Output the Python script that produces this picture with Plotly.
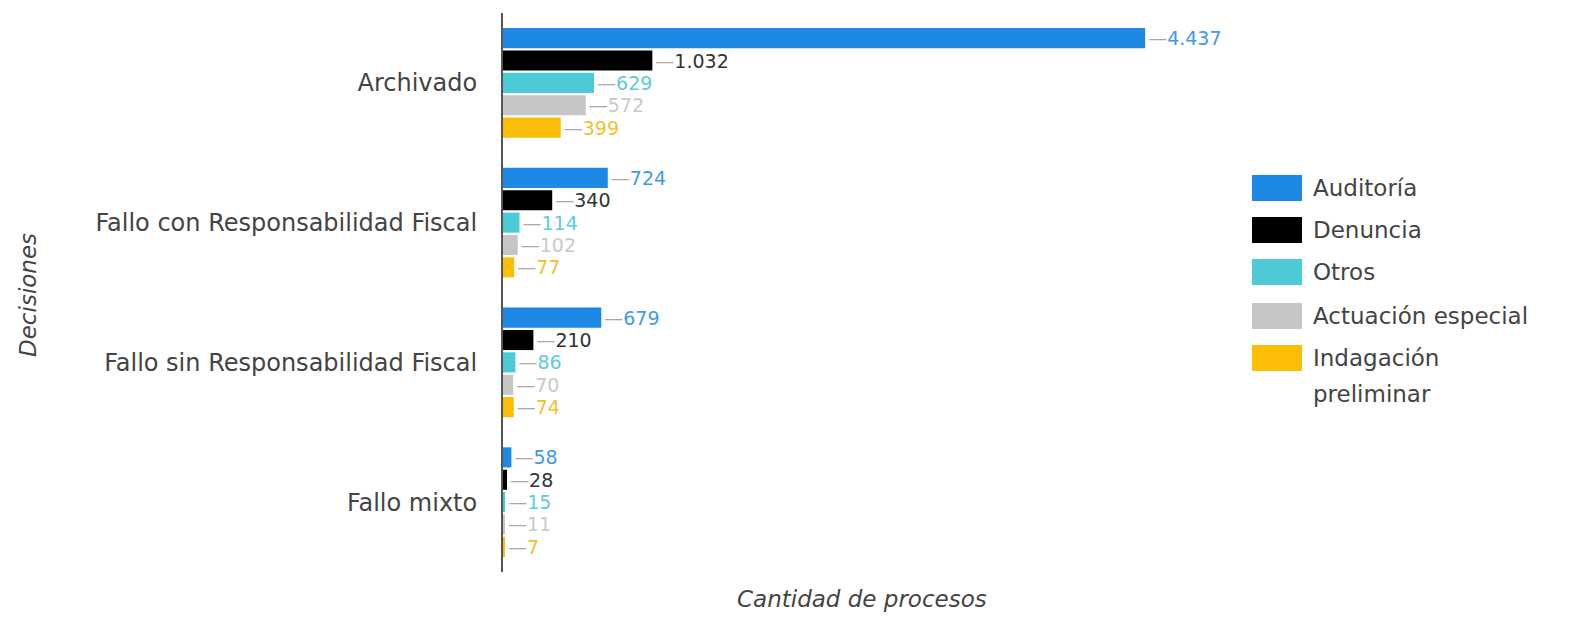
import plotly.graph_objects as go

# Decisiones y cantidad de procesos por origen
decisiones = ["Archivado", "Fallo con Responsabilidad Fiscal",
              "Fallo sin Responsabilidad Fiscal", "Fallo mixto"]
auditoria = [4437, 724, 679, 58]
denuncia = [1032, 340, 210, 28]
otros = [629, 114, 86, 15]
actuacion_especial = [572, 102, 70, 11]
indagacion_preliminar = [399, 77, 74, 7]

series = [
    ("Auditoría", auditoria, "#1e88e5", "#3f9ae8"),
    ("Denuncia", denuncia, "#000000", "#333333"),
    ("Otros", otros, "#4ccbd6", "#5ccdd9"),
    ("Actuación especial", actuacion_especial, "#c6c6c6", "#c9c9c9"),
    ("Indagación preliminar", indagacion_preliminar, "#fbbd08", "#f2c12e"),
]

FONT = "DejaVu Sans"
LEADER = "<span style='color:#a8a8a8'>—</span>"

fig = go.Figure()
for name, vals, color, txtcolor in series:
    fig.add_trace(go.Bar(
        y=decisiones, x=vals, name=name, orientation="h",
        marker=dict(color=color, line=dict(width=0)),
        texttemplate=LEADER + "%{x:,}",
        textposition="outside", cliponaxis=False, constraintext="none",
        textfont=dict(family=FONT, size=19, color=txtcolor),
        showlegend=False,
    ))

# Legend drawn as swatches with labels on the right side
L, R, T, B = 503, 351, 13, 48
W, H = 1574 - L - R, 620 - T - B


def px_x(x):
    return (x - L) / W


def px_y(y):
    return (620 - B - y) / H


legend_rows = [("Auditoría", 188), ("Denuncia", 230), ("Otros", 272),
               ("Actuación especial", 316), ("Indagación", 358)]
shapes, annotations = [], []
for (name, _, color, _), (label, yc) in zip(series, legend_rows):
    shapes.append(dict(type="rect", xref="paper", yref="paper",
                       x0=px_x(1252), x1=px_x(1302),
                       y0=px_y(yc + 13), y1=px_y(yc - 13),
                       fillcolor=color, line=dict(width=0)))
    annotations.append(dict(text=label, xref="paper", yref="paper",
                            x=px_x(1311), y=px_y(yc), xanchor="left",
                            yanchor="middle", showarrow=False,
                            font=dict(family=FONT, size=23, color="#444444")))
annotations.append(dict(text="preliminar", xref="paper", yref="paper",
                        x=px_x(1311), y=px_y(394), xanchor="left",
                        yanchor="middle", showarrow=False,
                        font=dict(family=FONT, size=23, color="#444444")))

# Axis titles
annotations.append(dict(text="<i>Decisiones</i>", xref="paper", yref="paper",
                        x=px_x(28), y=px_y(295), textangle=-90,
                        xanchor="center", yanchor="middle", showarrow=False,
                        font=dict(family=FONT, size=23, color="#444444")))
annotations.append(dict(text="<i>Cantidad de procesos</i>", xref="paper",
                        yref="paper", x=px_x(862), y=px_y(599),
                        xanchor="center", yanchor="middle", showarrow=False,
                        font=dict(family=FONT, size=23, color="#444444")))

fig.update_layout(
    width=1574, height=620,
    margin=dict(l=L, r=R, t=T, b=B, pad=0),
    paper_bgcolor="white", plot_bgcolor="white",
    barmode="group", bargap=0.2, bargroupgap=0.1,
    separators=",.",
    font=dict(family=FONT, color="#444444"),
    shapes=shapes, annotations=annotations,
    xaxis=dict(range=[0, 4975], showgrid=False, zeroline=False,
               showticklabels=False, showline=False, fixedrange=True),
    yaxis=dict(categoryorder="array", categoryarray=decisiones,
               range=[3.5, -0.5], showgrid=False, zeroline=False,
               showline=True, linecolor="#555555", linewidth=2,
               ticks="", ticklabelstandoff=19,
               tickfont=dict(family=FONT, size=24, color="#444444")),
)

fig.write_html("out.html")
